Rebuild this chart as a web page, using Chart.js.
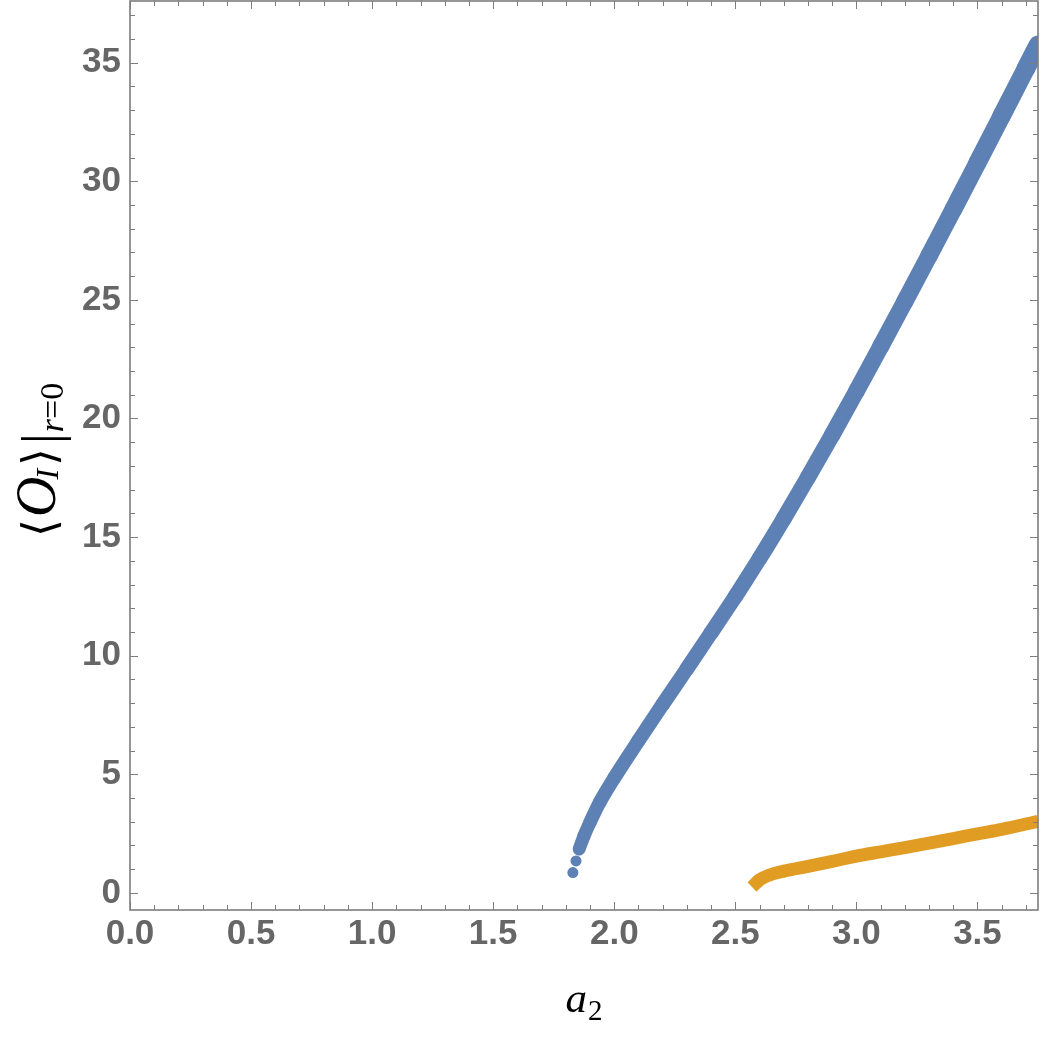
<!DOCTYPE html>
<html>
<head>
<meta charset="utf-8">
<script src="https://cdn.jsdelivr.net/npm/chart.js@4.4.1/dist/chart.umd.min.js"></script>
<style>
  html, body { margin: 0; padding: 0; background: #fff; }
</style>
</head>
<body>
<canvas id="chart" width="1042" height="1038"></canvas>
<script>
// values
const blueStartX = [1.829, 1.842];
const blueStartY = [0.86, 1.35];
const blueX = [1.855, 1.875, 1.90, 1.94, 2.0, 2.1, 2.2, 2.3, 2.4, 2.5, 2.6, 2.7, 2.8, 2.9, 3.0, 3.1, 3.2, 3.3, 3.4, 3.5, 3.6, 3.7, 3.75];
const blueY = [1.85, 2.40, 2.98, 3.82, 4.85, 6.42, 7.95, 9.45, 10.97, 12.5, 14.1, 15.78, 17.52, 19.31, 21.15, 23.03, 24.93, 26.86, 28.81, 30.78, 32.76, 34.75, 35.75];
const orangeX = [2.569, 2.60, 2.64, 2.70, 2.80, 2.90, 3.00, 3.10, 3.20, 3.30, 3.40, 3.50, 3.60, 3.75];
const orangeY = [0.25, 0.55, 0.75, 0.92, 1.12, 1.33, 1.55, 1.73, 1.91, 2.10, 2.29, 2.49, 2.68, 3.02];

const xTickLabels = ['0.0', '0.5', '1.0', '1.5', '2.0', '2.5', '3.0', '3.5'];
const yTickLabels = ['0', '5', '10', '15', '20', '25', '30', '35'];
const xRange = [0, 3.75];
const yRange = [-0.72, 37.6];
const xMinorStep = 0.1;
const yMinorStep = 1;

const blue = '#5E81B5';
const orange = '#E19C24';
const frameColor = '#7d7d7d';
const labelColor = '#666666';

const toPoints = (xs, ys) => xs.map((v, i) => ({ x: v, y: ys[i] }));

const noPadding = s => { s.paddingTop = 0; s.paddingBottom = 0; s.paddingLeft = 0; s.paddingRight = 0; };

// frame on all four sides with inward ticks (Mathematica style)
const framePlugin = {
    id: 'frame',
    afterDatasetsDraw(chart) {
        const { ctx, chartArea: a, scales } = chart;
        const sx = scales.x, sy = scales.y;
        ctx.save();
        ctx.strokeStyle = frameColor;
        ctx.lineWidth = 1;
        ctx.beginPath();
        const nx = Math.round((xRange[1] - xRange[0]) / xMinorStep);
        for (let i = 0; i <= nx; i++) {
            const v = xRange[0] + i * xMinorStep;
            const len = i % 5 === 0 ? 8 : 5;
            const px = Math.round(sx.getPixelForValue(v)) + 0.5;
            ctx.moveTo(px, a.bottom); ctx.lineTo(px, a.bottom - len);
            ctx.moveTo(px, a.top); ctx.lineTo(px, a.top + len);
        }
        for (let v = Math.ceil(yRange[0]); v <= yRange[1]; v += yMinorStep) {
            const len = v % 5 === 0 ? 8 : 5;
            const py = Math.round(sy.getPixelForValue(v)) + 0.5;
            ctx.moveTo(a.left, py); ctx.lineTo(a.left + len, py);
            ctx.moveTo(a.right, py); ctx.lineTo(a.right - len, py);
        }
        ctx.stroke();
        ctx.lineWidth = 1.6;
        ctx.strokeRect(a.left, a.top, a.right - a.left, a.bottom - a.top);
        ctx.restore();
    }
};

// axis titles with sub/superscript pieces
const titlePlugin = {
    id: 'titles',
    afterDraw(chart) {
        const { ctx, chartArea: a } = chart;
        ctx.save();
        ctx.fillStyle = '#000';
        ctx.textBaseline = 'alphabetic';
        ctx.textAlign = 'left';

        // x title: a_2
        const fa = 'italic 43px "Liberation Serif", serif';
        const fs = '29px "Liberation Serif", serif';
        ctx.font = fa;
        const aw = ctx.measureText('a').width;
        ctx.font = fs;
        const sw = ctx.measureText('2').width;
        const x0 = (a.left + a.right) / 2 - (aw + sw + 1) / 2;
        ctx.font = fa;
        ctx.fillText('a', x0, a.bottom + 102);
        ctx.font = fs;
        ctx.fillText('2', x0 + aw + 1, a.bottom + 110);

        // y title: <O_I>|_{r=0}
        ctx.translate(55, a.bottom - 373);
        ctx.rotate(-Math.PI / 2);
        const parts = [
            { t: '⟨', f: '46px "DejaVu Serif", serif', dy: 0, pre: 0 },
            { t: 'O', f: 'italic 56px "Liberation Serif", serif', dy: 0, pre: 2 },
            { t: 'I', f: 'italic 32px "Liberation Serif", serif', dy: 3, pre: -3 },
            { t: '⟩', f: '46px "DejaVu Serif", serif', dy: 0, pre: 3 },
            { t: '|', f: '54px "Liberation Serif", serif', dy: 4, pre: 4 },
            { t: 'r', f: 'italic 34px "Liberation Serif", serif', dy: 8, pre: 1 },
            { t: '=', f: '34px "Liberation Serif", serif', dy: 8, pre: 0 },
            { t: '0', f: '34px "Liberation Serif", serif', dy: 8, pre: 0 }
        ];
        let pos = 0;
        parts.forEach(p => {
            ctx.font = p.f;
            pos += p.pre;
            ctx.fillText(p.t, pos, p.dy);
            pos += ctx.measureText(p.t).width;
        });
        ctx.restore();
    }
};

const tickFont = { family: '"Liberation Sans", Arial, sans-serif', size: 35, weight: 'bold' };

new Chart(document.getElementById('chart'), {
    type: 'scatter',
    data: {
        datasets: [
            {
                label: 'branch 1 start',
                data: toPoints(blueStartX, blueStartY),
                showLine: false,
                pointRadius: 5.5,
                pointBackgroundColor: blue,
                pointBorderWidth: 0,
                clip: 0
            },
            {
                label: 'branch 1',
                data: toPoints(blueX, blueY),
                showLine: true,
                borderColor: blue,
                borderWidth: 14,
                borderCapStyle: 'round',
                borderJoinStyle: 'round',
                pointRadius: 0,
                cubicInterpolationMode: 'monotone',
                clip: 0,
                segment: {
                    borderWidth: ctx => 13 + 6 * ctx.p0DataIndex / (blueX.length - 1)
                }
            },
            {
                label: 'branch 2',
                data: toPoints(orangeX, orangeY),
                showLine: true,
                borderColor: orange,
                borderWidth: 13,
                borderCapStyle: 'butt',
                borderJoinStyle: 'round',
                pointRadius: 0,
                cubicInterpolationMode: 'monotone',
                clip: 0
            }
        ]
    },
    options: {
        responsive: false,
        animation: false,
        layout: { autoPadding: false, padding: { top: 1, right: 4, left: 0, bottom: 0 } },
        plugins: {
            legend: { display: false },
            tooltip: { enabled: false }
        },
        scales: {
            x: {
                type: 'linear',
                min: xRange[0],
                max: xRange[1],
                grid: { display: false, drawTicks: false },
                border: { display: false },
                afterBuildTicks: s => { s.ticks = xTickLabels.map(l => ({ value: parseFloat(l) })); },
                afterFit: s => { s.height = 128; noPadding(s); },
                ticks: {
                    autoSkip: false,
                    maxRotation: 0,
                    padding: 3,
                    color: labelColor,
                    font: tickFont,
                    callback: (v, i) => xTickLabels[i]
                }
            },
            y: {
                type: 'linear',
                min: yRange[0],
                max: yRange[1],
                grid: { display: false, drawTicks: false },
                border: { display: false },
                afterBuildTicks: s => { s.ticks = yTickLabels.map(l => ({ value: parseFloat(l) })); },
                afterFit: s => { s.width = 130; noPadding(s); },
                ticks: {
                    autoSkip: false,
                    padding: 9,
                    color: labelColor,
                    font: tickFont,
                    callback: (v, i) => yTickLabels[i]
                }
            }
        }
    },
    plugins: [framePlugin, titlePlugin]
});
</script>
</body>
</html>
